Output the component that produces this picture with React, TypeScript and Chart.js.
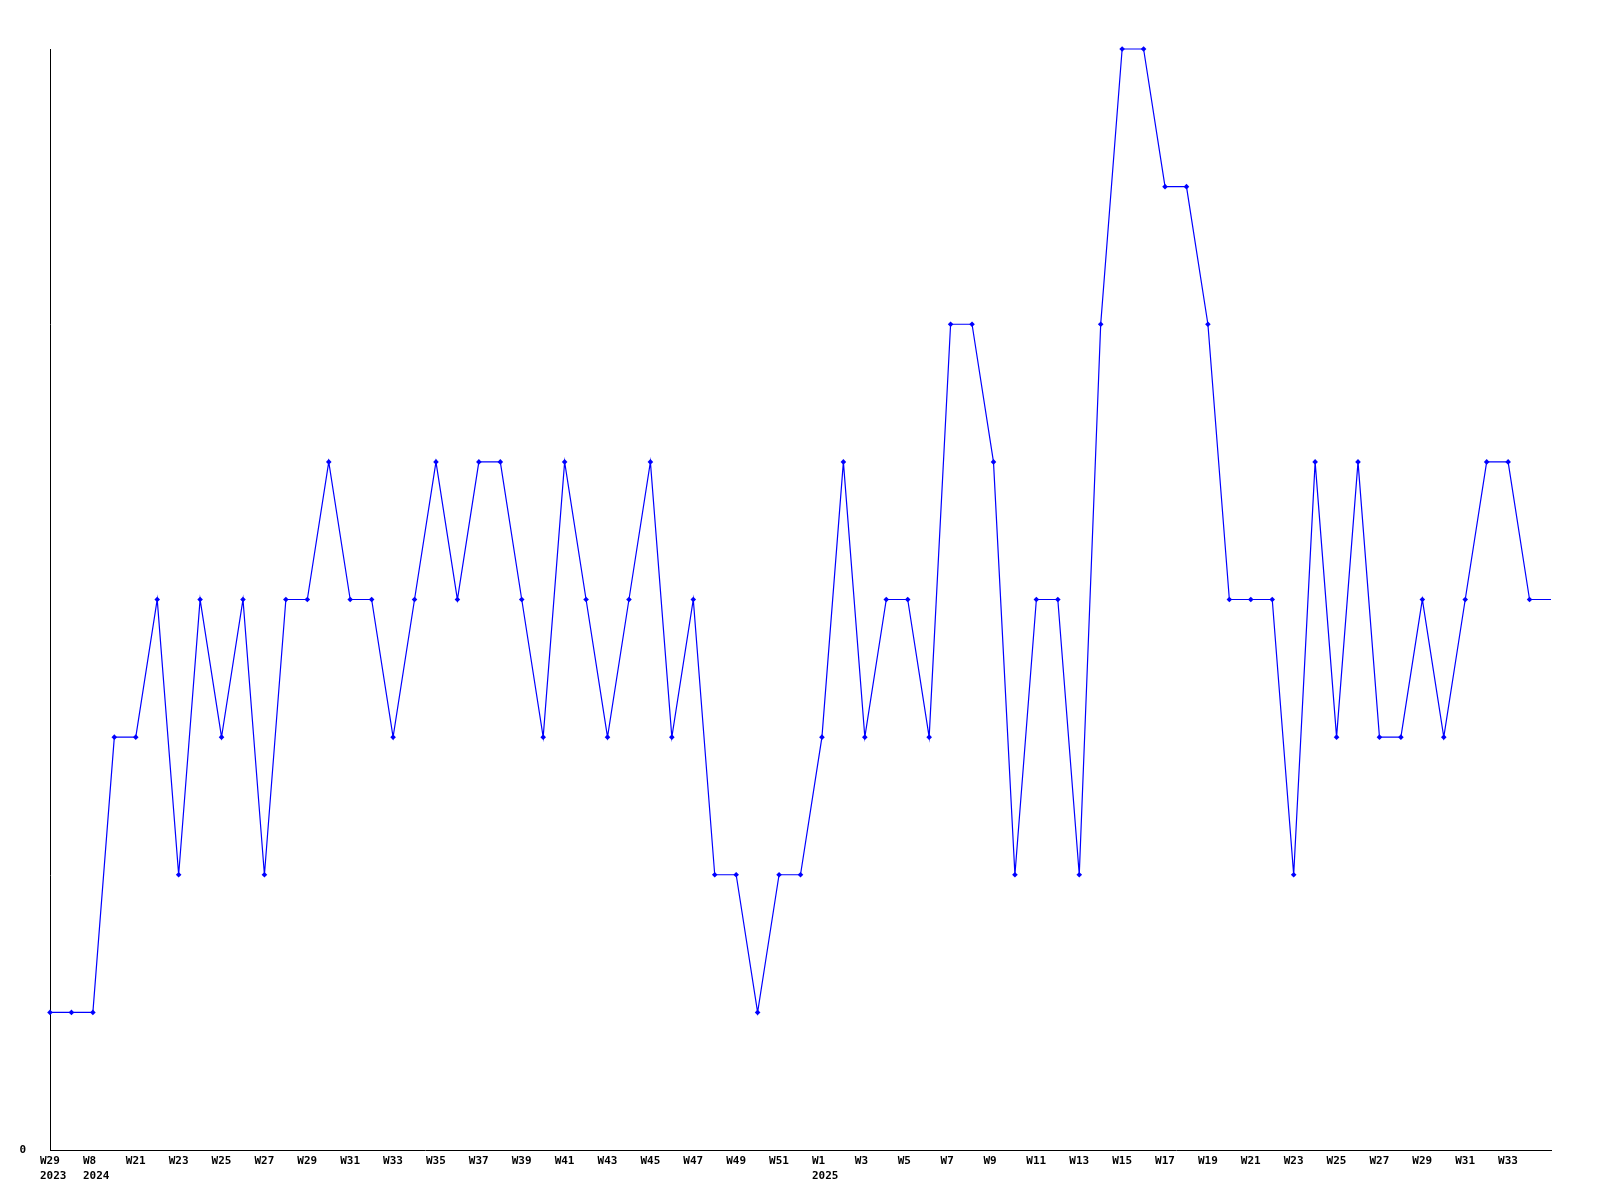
import React, { useEffect, useRef } from "react";
import { Chart, registerables } from "chart.js";

Chart.register(...registerables);

// Weeks (category axis); every other label is shown
const weekLabels: string[] = [
  "W29 2023", "W30", "W8 2024", "W20", "W21", "W22", "W23", "W24", "W25", "W26",
  "W27", "W28", "W29", "W30", "W31", "W32", "W33", "W34", "W35", "W36",
  "W37", "W38", "W39", "W40", "W41", "W42", "W43", "W44", "W45", "W46",
  "W47", "W48", "W49", "W50", "W51", "W52", "W1 2025", "W2", "W3", "W4",
  "W5", "W6", "W7", "W8", "W9", "W10", "W11", "W12", "W13", "W14",
  "W15", "W16", "W17", "W18", "W19", "W20", "W21", "W22", "W23", "W24",
  "W25", "W26", "W27", "W28", "W29", "W30", "W31", "W32", "W33", "W34",
  "W35",
];

const seriesValues: number[] = [
  1, 1, 1, 3, 3, 4, 2, 4, 3, 4,
  2, 4, 4, 5, 4, 4, 3, 4, 5, 4,
  5, 5, 4, 3, 5, 4, 3, 4, 5, 3,
  4, 2, 2, 1, 2, 2, 3, 5, 3, 4,
  4, 3, 6, 6, 5, 2, 4, 4, 2, 6,
  8, 8, 7, 7, 6, 4, 4, 4, 2, 5,
  3, 5, 3, 3, 4, 3, 4, 5, 5, 4,
  4,
];

const yTickLabels: string[] = ["0"];

const FONT = { family: "'DejaVu Sans Mono', monospace", size: 11, weight: "bold" as const, lineHeight: 1.35 };

export default function App() {
  const ref = useRef<HTMLCanvasElement | null>(null);

  useEffect(() => {
    if (!ref.current) return;
    const n = seriesValues.length;
    const chart = new Chart(ref.current, {
      type: "line",
      data: {
        labels: weekLabels,
        datasets: [
          {
            data: seriesValues,
            borderColor: "#0000ff",
            backgroundColor: "#0000ff",
            borderWidth: 1.2,
            tension: 0,
            pointStyle: "rectRot",
            pointRadius: seriesValues.map((_, i) => (i === n - 1 ? 0 : 2.8)),
            pointBorderWidth: 0,
            pointBackgroundColor: "#0000ff",
            clip: false,
          },
        ],
      },
      options: {
        animation: false,
        responsive: false,
        maintainAspectRatio: false,
        layout: { padding: { left: 0, right: 49, top: 49, bottom: 0 } },
        plugins: { legend: { display: false }, tooltip: { enabled: false } },
        scales: {
          x: {
            type: "category",
            offset: false,
            grid: { display: false, drawTicks: false },
            border: { display: true, color: "#000", width: 1 },
            afterFit: (s: any) => {
              s.height = 50;
            },
            ticks: {
              autoSkip: false,
              maxRotation: 0,
              minRotation: 0,
              align: "start",
              labelOffset: -10,
              padding: 4,
              color: "#000",
              font: FONT,
              callback: (_v: any, i: number) => {
                if (i % 2 !== 0 || i === n - 1) return "";
                const lbl = weekLabels[i];
                return lbl.includes(" ") ? lbl.split(" ") : lbl;
              },
            },
          },
          y: {
            min: 0,
            max: 8,
            grid: { display: false, drawTicks: false },
            border: { display: true, color: "#000", width: 1 },
            afterFit: (s: any) => {
              s.width = 50;
            },
            ticks: {
              stepSize: 1,
              padding: 24,
              color: "#000",
              font: FONT,
              callback: (v: any) => (v === 0 ? yTickLabels[0] : ""),
            },
          },
        },
      },
    });
    return () => chart.destroy();
  }, []);

  return (
    <div style={{ position: "fixed", left: 0, top: 0, width: 1600, height: 1200, background: "#fff" }}>
      <canvas ref={ref} width={1600} height={1200} style={{ display: "block" }} />
    </div>
  );
}
